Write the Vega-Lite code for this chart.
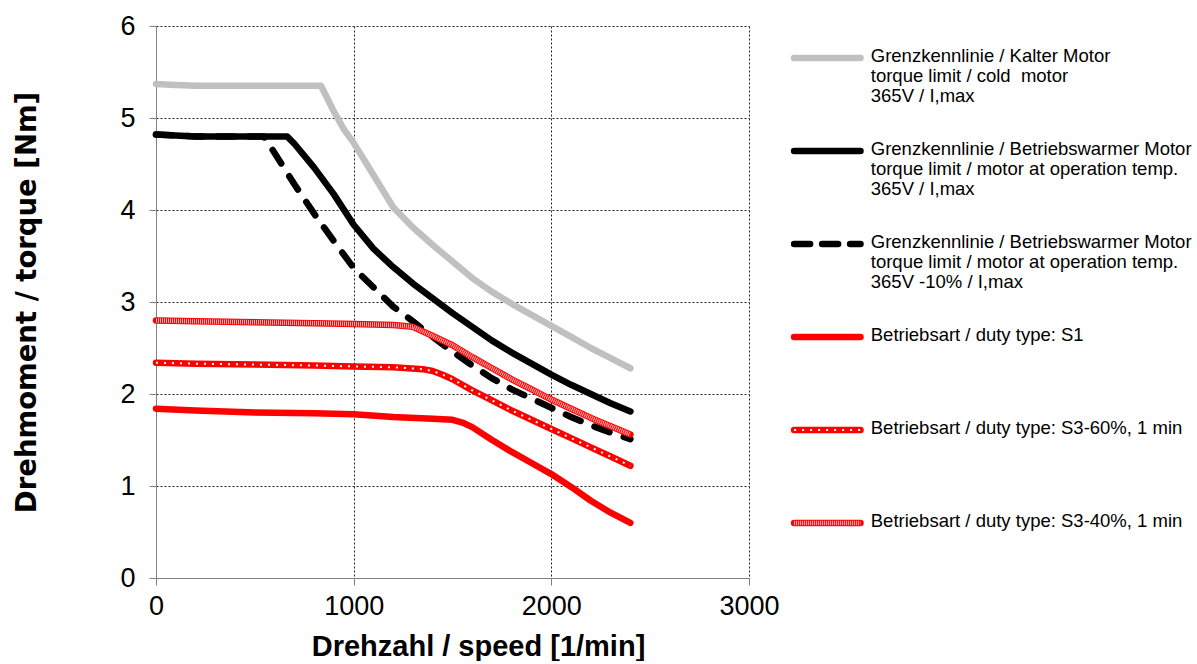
{
  "$schema": "https://vega.github.io/schema/vega-lite/v6.json",
  "background": "white",
  "padding": {"left": 13, "top": 12, "right": 0, "bottom": 0},
  "config": {
    "view": {"stroke": null},
    "font": "Liberation Sans",
    "concat": {"spacing": 10}
  },
  "datasets": {
    "curves": [
      {"series": "kalt", "speed": 0, "torque": 5.37},
      {"series": "kalt", "speed": 100, "torque": 5.36},
      {"series": "kalt", "speed": 200, "torque": 5.35},
      {"series": "kalt", "speed": 500, "torque": 5.35},
      {"series": "kalt", "speed": 835, "torque": 5.35},
      {"series": "kalt", "speed": 900, "torque": 5.07},
      {"series": "kalt", "speed": 950, "torque": 4.88},
      {"series": "kalt", "speed": 1000, "torque": 4.73},
      {"series": "kalt", "speed": 1100, "torque": 4.38},
      {"series": "kalt", "speed": 1200, "torque": 4.03},
      {"series": "kalt", "speed": 1300, "torque": 3.81},
      {"series": "kalt", "speed": 1400, "torque": 3.62},
      {"series": "kalt", "speed": 1500, "torque": 3.44},
      {"series": "kalt", "speed": 1600, "torque": 3.26},
      {"series": "kalt", "speed": 1700, "torque": 3.11},
      {"series": "kalt", "speed": 1800, "torque": 2.98},
      {"series": "kalt", "speed": 1900, "torque": 2.86},
      {"series": "kalt", "speed": 2000, "torque": 2.74},
      {"series": "kalt", "speed": 2100, "torque": 2.62},
      {"series": "kalt", "speed": 2200, "torque": 2.5},
      {"series": "kalt", "speed": 2300, "torque": 2.39},
      {"series": "kalt", "speed": 2400, "torque": 2.28},

      {"series": "warm", "speed": 0, "torque": 4.82},
      {"series": "warm", "speed": 100, "torque": 4.81},
      {"series": "warm", "speed": 200, "torque": 4.8},
      {"series": "warm", "speed": 500, "torque": 4.8},
      {"series": "warm", "speed": 663, "torque": 4.8},
      {"series": "warm", "speed": 700, "torque": 4.72},
      {"series": "warm", "speed": 800, "torque": 4.46},
      {"series": "warm", "speed": 900, "torque": 4.17},
      {"series": "warm", "speed": 1000, "torque": 3.84},
      {"series": "warm", "speed": 1100, "torque": 3.58},
      {"series": "warm", "speed": 1200, "torque": 3.38},
      {"series": "warm", "speed": 1300, "torque": 3.2},
      {"series": "warm", "speed": 1400, "torque": 3.04},
      {"series": "warm", "speed": 1500, "torque": 2.88},
      {"series": "warm", "speed": 1600, "torque": 2.73},
      {"series": "warm", "speed": 1700, "torque": 2.58},
      {"series": "warm", "speed": 1800, "torque": 2.45},
      {"series": "warm", "speed": 1900, "torque": 2.33},
      {"series": "warm", "speed": 2000, "torque": 2.21},
      {"series": "warm", "speed": 2100, "torque": 2.1},
      {"series": "warm", "speed": 2200, "torque": 2.0},
      {"series": "warm", "speed": 2300, "torque": 1.9},
      {"series": "warm", "speed": 2400, "torque": 1.81},

      {"series": "warm -10%", "speed": 0, "torque": 4.82},
      {"series": "warm -10%", "speed": 100, "torque": 4.81},
      {"series": "warm -10%", "speed": 200, "torque": 4.8},
      {"series": "warm -10%", "speed": 545, "torque": 4.8},
      {"series": "warm -10%", "speed": 600, "torque": 4.62},
      {"series": "warm -10%", "speed": 650, "torque": 4.45},
      {"series": "warm -10%", "speed": 700, "torque": 4.28},
      {"series": "warm -10%", "speed": 800, "torque": 3.96},
      {"series": "warm -10%", "speed": 900, "torque": 3.66},
      {"series": "warm -10%", "speed": 1000, "torque": 3.37},
      {"series": "warm -10%", "speed": 1100, "torque": 3.16},
      {"series": "warm -10%", "speed": 1200, "torque": 2.95},
      {"series": "warm -10%", "speed": 1300, "torque": 2.79},
      {"series": "warm -10%", "speed": 1400, "torque": 2.62},
      {"series": "warm -10%", "speed": 1500, "torque": 2.46},
      {"series": "warm -10%", "speed": 1600, "torque": 2.31},
      {"series": "warm -10%", "speed": 1700, "torque": 2.17},
      {"series": "warm -10%", "speed": 1800, "torque": 2.05},
      {"series": "warm -10%", "speed": 1900, "torque": 1.95},
      {"series": "warm -10%", "speed": 2000, "torque": 1.85},
      {"series": "warm -10%", "speed": 2100, "torque": 1.75},
      {"series": "warm -10%", "speed": 2200, "torque": 1.66},
      {"series": "warm -10%", "speed": 2300, "torque": 1.58},
      {"series": "warm -10%", "speed": 2400, "torque": 1.51},

      {"series": "S1", "speed": 0, "torque": 1.84},
      {"series": "S1", "speed": 200, "torque": 1.82},
      {"series": "S1", "speed": 500, "torque": 1.8},
      {"series": "S1", "speed": 800, "torque": 1.79},
      {"series": "S1", "speed": 1000, "torque": 1.78},
      {"series": "S1", "speed": 1200, "torque": 1.75},
      {"series": "S1", "speed": 1400, "torque": 1.73},
      {"series": "S1", "speed": 1500, "torque": 1.72},
      {"series": "S1", "speed": 1550, "torque": 1.69},
      {"series": "S1", "speed": 1600, "torque": 1.64},
      {"series": "S1", "speed": 1700, "torque": 1.5},
      {"series": "S1", "speed": 1800, "torque": 1.37},
      {"series": "S1", "speed": 1900, "torque": 1.25},
      {"series": "S1", "speed": 2000, "torque": 1.13},
      {"series": "S1", "speed": 2100, "torque": 0.99},
      {"series": "S1", "speed": 2200, "torque": 0.84},
      {"series": "S1", "speed": 2300, "torque": 0.71},
      {"series": "S1", "speed": 2400, "torque": 0.6},

      {"series": "S3-60%", "speed": 0, "torque": 2.34},
      {"series": "S3-60%", "speed": 200, "torque": 2.33},
      {"series": "S3-60%", "speed": 500, "torque": 2.32},
      {"series": "S3-60%", "speed": 800, "torque": 2.31},
      {"series": "S3-60%", "speed": 1000, "torque": 2.3},
      {"series": "S3-60%", "speed": 1200, "torque": 2.29},
      {"series": "S3-60%", "speed": 1350, "torque": 2.27},
      {"series": "S3-60%", "speed": 1400, "torque": 2.25},
      {"series": "S3-60%", "speed": 1450, "torque": 2.21},
      {"series": "S3-60%", "speed": 1500, "torque": 2.16},
      {"series": "S3-60%", "speed": 1600, "torque": 2.04},
      {"series": "S3-60%", "speed": 1700, "torque": 1.93},
      {"series": "S3-60%", "speed": 1800, "torque": 1.82},
      {"series": "S3-60%", "speed": 1900, "torque": 1.72},
      {"series": "S3-60%", "speed": 2000, "torque": 1.62},
      {"series": "S3-60%", "speed": 2100, "torque": 1.52},
      {"series": "S3-60%", "speed": 2200, "torque": 1.42},
      {"series": "S3-60%", "speed": 2300, "torque": 1.32},
      {"series": "S3-60%", "speed": 2400, "torque": 1.22},

      {"series": "S3-40%", "speed": 0, "torque": 2.8},
      {"series": "S3-40%", "speed": 200, "torque": 2.79},
      {"series": "S3-40%", "speed": 500, "torque": 2.78},
      {"series": "S3-40%", "speed": 800, "torque": 2.77},
      {"series": "S3-40%", "speed": 1000, "torque": 2.76},
      {"series": "S3-40%", "speed": 1200, "torque": 2.75},
      {"series": "S3-40%", "speed": 1300, "torque": 2.73},
      {"series": "S3-40%", "speed": 1400, "torque": 2.63},
      {"series": "S3-40%", "speed": 1500, "torque": 2.53},
      {"series": "S3-40%", "speed": 1600, "torque": 2.4},
      {"series": "S3-40%", "speed": 1700, "torque": 2.28},
      {"series": "S3-40%", "speed": 1800, "torque": 2.16},
      {"series": "S3-40%", "speed": 1900, "torque": 2.05},
      {"series": "S3-40%", "speed": 2000, "torque": 1.94},
      {"series": "S3-40%", "speed": 2100, "torque": 1.84},
      {"series": "S3-40%", "speed": 2200, "torque": 1.74},
      {"series": "S3-40%", "speed": 2300, "torque": 1.65},
      {"series": "S3-40%", "speed": 2400, "torque": 1.56}
    ],
    "entries": [
      {"series": "kalt", "label": "Grenzkennlinie / Kalter Motor\ntorque limit / cold\u00a0 motor\n365V / I,max"},
      {"series": "warm", "label": "Grenzkennlinie / Betriebswarmer Motor\ntorque limit / motor at operation temp.\n365V / I,max"},
      {"series": "warm -10%", "label": "Grenzkennlinie / Betriebswarmer Motor\ntorque limit / motor at operation temp.\n365V -10% / I,max"},
      {"series": "S1", "label": "Betriebsart / duty type: S1"},
      {"series": "S3-60%", "label": "Betriebsart / duty type: S3-60%, 1 min"},
      {"series": "S3-40%", "label": "Betriebsart / duty type: S3-40%, 1 min"}
    ]
  },
  "hconcat": [
    {
      "width": 593,
      "height": 552,
      "data": {"name": "curves"},
      "encoding": {
        "x": {
          "field": "speed",
          "type": "quantitative",
          "scale": {"domain": [0, 3000], "nice": false},
          "axis": {
            "values": [0, 1000, 2000, 3000],
            "format": "d",
            "title": "Drehzahl / speed [1/min]",
            "titleFont": "Liberation Sans",
            "titleFontSize": 29,
            "titleFontWeight": "bold",
            "titleColor": "#000000",
            "titlePadding": 13,
            "titleX": 322,
            "labelFont": "Liberation Sans",
            "labelFontSize": 27,
            "labelColor": "#000000",
            "labelPadding": 8,
            "labelFlush": false,
            "tickSize": 7,
            "tickColor": "#808080",
            "domainColor": "#808080",
            "grid": true,
            "gridColor": "#222222",
            "gridDash": [2, 2],
            "gridOpacity": 1
          }
        },
        "y": {
          "field": "torque",
          "type": "quantitative",
          "scale": {"domain": [0, 6], "nice": false},
          "axis": {
            "values": [0, 1, 2, 3, 4, 5, 6],
            "format": "d",
            "title": "Drehmoment / torque [Nm]",
            "titleFont": "DejaVu Sans",
            "titleFontSize": 27.5,
            "titleFontWeight": "bold",
            "titleColor": "#000000",
            "titlePadding": 78,
            "labelFont": "Liberation Sans",
            "labelFontSize": 27,
            "labelColor": "#000000",
            "labelPadding": 14,
            "labelFlush": false,
            "tickSize": 7,
            "tickColor": "#808080",
            "domainColor": "#808080",
            "grid": true,
            "gridColor": "#222222",
            "gridDash": [2, 2],
            "gridOpacity": 1
          }
        }
      },
      "layer": [
        {
          "transform": [{"filter": "datum.series === 'kalt'"}],
          "mark": {"type": "line", "color": "#c0c0c0", "strokeWidth": 6.5, "strokeCap": "round", "strokeJoin": "round"}
        },
        {
          "transform": [{"filter": "datum.series === 'warm'"}],
          "mark": {"type": "line", "color": "#000000", "strokeWidth": 6.5, "strokeCap": "round", "strokeJoin": "round"}
        },
        {
          "transform": [{"filter": "datum.series === 'warm -10%'"}],
          "mark": {"type": "line", "color": "#000000", "strokeWidth": 6.5, "strokeCap": "round", "strokeJoin": "round", "strokeDash": [16, 15]}
        },
        {
          "transform": [{"filter": "datum.series === 'S1'"}],
          "mark": {"type": "line", "color": "#ff0000", "strokeWidth": 6.5, "strokeCap": "round", "strokeJoin": "round"}
        },
        {
          "transform": [{"filter": "datum.series === 'S3-60%'"}],
          "mark": {"type": "line", "color": "#ff0000", "strokeWidth": 6.5, "strokeCap": "round", "strokeJoin": "round"}
        },
        {
          "transform": [{"filter": "datum.series === 'S3-60%'"}],
          "mark": {"type": "line", "color": "#ffffff", "strokeWidth": 2, "strokeCap": "butt", "strokeDash": [2, 6]}
        },
        {
          "transform": [{"filter": "datum.series === 'S3-40%'"}],
          "mark": {"type": "line", "color": "#ff0000", "strokeWidth": 6.5, "strokeCap": "round", "strokeJoin": "round"}
        },
        {
          "transform": [{"filter": "datum.series === 'S3-40%'"}],
          "mark": {"type": "line", "color": "#ffffff", "strokeWidth": 4.5, "strokeCap": "butt", "strokeDash": [1, 1], "opacity": 0.7}
        }
      ]
    },
    {
      "width": 410,
      "height": 529,
      "data": {"name": "entries"},
      "encoding": {
        "y": {
          "field": "series",
          "type": "nominal",
          "scale": {
            "type": "point",
            "domain": ["kalt", "warm", "warm -10%", "S1", "S3-60%", "S3-40%"],
            "padding": 0.345
          },
          "axis": null
        }
      },
      "layer": [
        {
          "mark": {"type": "rule", "strokeWidth": 6.5, "strokeCap": "round"},
          "encoding": {
            "x": {"datum": 0.01, "type": "quantitative", "scale": {"domain": [0, 1]}, "axis": null},
            "x2": {"datum": 0.172},
            "color": {
              "field": "series",
              "type": "nominal",
              "scale": {
                "domain": ["kalt", "warm", "warm -10%", "S1", "S3-60%", "S3-40%"],
                "range": ["#c0c0c0", "#000000", "#000000", "#ff0000", "#ff0000", "#ff0000"]
              },
              "legend": null
            },
            "strokeDash": {
              "field": "series",
              "type": "nominal",
              "scale": {
                "domain": ["kalt", "warm", "warm -10%", "S1", "S3-60%", "S3-40%"],
                "range": [[1, 0], [1, 0], [16, 12], [1, 0], [1, 0], [1, 0]]
              },
              "legend": null
            }
          }
        },
        {
          "transform": [{"filter": "datum.series === 'S3-60%'"}],
          "mark": {"type": "rule", "color": "#ffffff", "strokeWidth": 2, "strokeCap": "butt", "strokeDash": [2, 6]},
          "encoding": {
            "x": {"datum": 0.01, "type": "quantitative", "scale": {"domain": [0, 1]}, "axis": null},
            "x2": {"datum": 0.172}
          }
        },
        {
          "transform": [{"filter": "datum.series === 'S3-40%'"}],
          "mark": {"type": "rule", "color": "#ffffff", "strokeWidth": 4.5, "strokeCap": "butt", "strokeDash": [1, 1], "opacity": 0.7},
          "encoding": {
            "x": {"datum": 0.01, "type": "quantitative", "scale": {"domain": [0, 1]}, "axis": null},
            "x2": {"datum": 0.172}
          }
        },
        {
          "mark": {
            "type": "text",
            "align": "left",
            "baseline": "top",
            "dy": -11,
            "font": "Liberation Sans",
            "fontSize": 18.5,
            "lineHeight": 20,
            "lineBreak": "\n",
            "color": "#000000"
          },
          "encoding": {
            "x": {"datum": 0.197, "type": "quantitative", "scale": {"domain": [0, 1]}, "axis": null},
            "text": {"field": "label", "type": "nominal"}
          }
        }
      ]
    }
  ]
}
